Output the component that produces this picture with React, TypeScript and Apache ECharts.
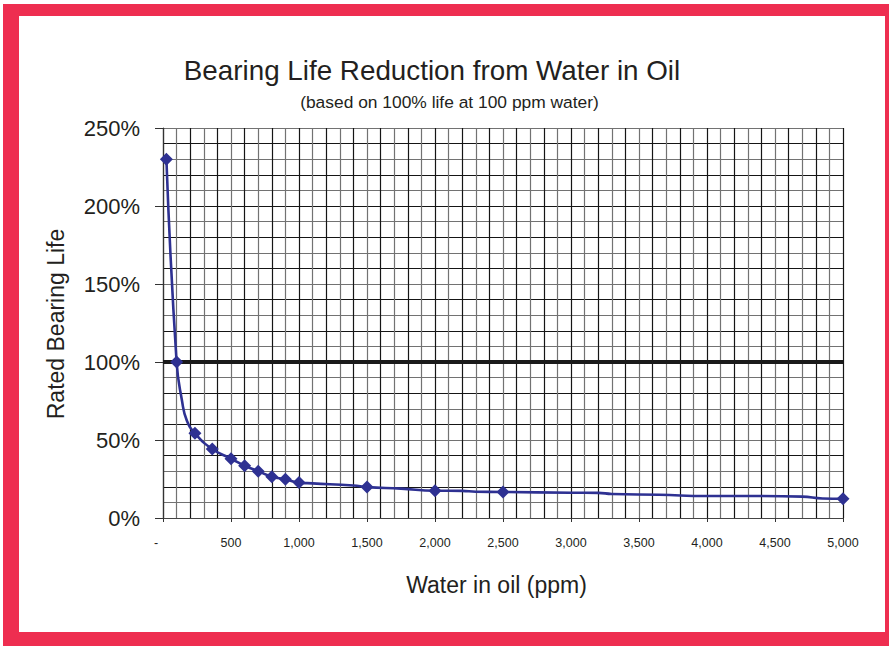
import React, { useEffect, useRef } from "react";
import * as echarts from "echarts";

// Curve through the chart (ppm water, % rated life); marked = diamond shown
const waterPpm = [25, 100, 140, 175, 235, 362, 500, 600, 700, 800, 900, 1000, 1100, 1400, 1500, 1750, 2000, 2200, 2300, 2500, 3000, 3200, 3300, 3650, 4000, 4400, 4700, 4850, 5000];
const lifePct = [230, 100, 75, 62.5, 54.3, 44.2, 38, 33.5, 30, 26.5, 24.8, 22.7, 22.2, 20.8, 19.8, 18.8, 17.5, 17.4, 16.8, 16.7, 16.2, 16.1, 15.4, 14.9, 14.1, 14.1, 13.7, 12.5, 12.3];
const marked = [1, 1, 0, 0, 1, 1, 1, 1, 1, 1, 1, 1, 0, 0, 1, 0, 1, 0, 0, 1, 0, 0, 0, 0, 0, 0, 0, 0, 1];

// Reference line at 100% life
const refX = [0, 5000];
const refY = [100, 100];

const xTicks = [0, 500, 1000, 1500, 2000, 2500, 3000, 3500, 4000, 4500, 5000];
const yTicks = [0, 50, 100, 150, 200, 250];

const TEXT = "#231f20";
const FONT = "'Liberation Sans', Arial, Helvetica, sans-serif";

function fmtThousands(v: number): string {
  return String(v).replace(/\B(?=(\d{3})+(?!\d))/g, ",");
}

export default function App() {
  const ref = useRef<HTMLDivElement>(null);

  useEffect(() => {
    if (!ref.current) return;
    const chart = echarts.init(ref.current, undefined, { renderer: "svg" });
    const xMax = xTicks[xTicks.length - 1];
    const yMax = yTicks[yTicks.length - 1];
    const gridColors = ["#151515", "#727272"];

    chart.setOption({
      animation: false,
      textStyle: { fontFamily: FONT },
      grid: { left: 163, top: 128, width: 680, height: 390, containLabel: false },
      graphic: [
        {
          type: "text",
          x: 432,
          y: 70,
          style: {
            text: "Bearing Life Reduction from Water in Oil",
            fontSize: 27.8,
            fontFamily: FONT,
            fill: TEXT,
            textAlign: "center",
            textVerticalAlign: "middle",
          },
        },
        {
          type: "text",
          x: 449.5,
          y: 102,
          style: {
            text: "(based on 100% life at 100 ppm water)",
            fontSize: 17.4,
            fontFamily: FONT,
            fill: TEXT,
            textAlign: "center",
            textVerticalAlign: "middle",
          },
        },
        {
          type: "text",
          x: 496.5,
          y: 585,
          style: {
            text: "Water in oil (ppm)",
            fontSize: 23,
            fontFamily: FONT,
            fill: TEXT,
            textAlign: "center",
            textVerticalAlign: "middle",
          },
        },
        {
          type: "text",
          x: 56,
          y: 324,
          rotation: Math.PI / 2,
          style: {
            text: "Rated Bearing Life",
            fontSize: 23,
            fontFamily: FONT,
            fill: TEXT,
            textAlign: "center",
            textVerticalAlign: "middle",
          },
        },
      ],
      xAxis: [
        {
          type: "value",
          min: 0,
          max: xMax,
          interval: 500,
          axisLine: { show: true, lineStyle: { color: "#444", width: 1.2 } },
          axisTick: { show: true, length: 4, lineStyle: { color: "#333" } },
          splitLine: { show: false },
          axisLabel: {
            margin: 18,
            fontSize: 12.5,
            color: TEXT,
            fontFamily: FONT,
            formatter: (v: number) => (v === 0 ? "{d|-}" : fmtThousands(v)),
            rich: { d: { padding: [0, 14, 0, 0], fontSize: 12.5, color: TEXT, fontFamily: FONT } },
          },
        },
        {
          type: "value",
          min: 0,
          max: xMax,
          interval: 100,
          show: true,
          axisLine: { show: false },
          axisTick: { show: false },
          axisLabel: { show: false },
          splitLine: { show: true, lineStyle: { color: gridColors, width: 1.2 } },
        },
      ],
      yAxis: [
        {
          type: "value",
          min: 0,
          max: yMax,
          interval: 50,
          axisLine: { show: true, lineStyle: { color: "#333", width: 1.2 } },
          axisTick: { show: true, length: 8, lineStyle: { color: "#333" } },
          splitLine: { show: false },
          axisLabel: {
            margin: 23,
            fontSize: 22,
            color: TEXT,
            fontFamily: FONT,
            formatter: (v: number) => v + "%",
          },
        },
        {
          type: "value",
          min: 0,
          max: yMax,
          interval: 10,
          show: true,
          axisLine: { show: false },
          axisTick: { show: false },
          axisLabel: { show: false },
          splitLine: { show: true, lineStyle: { color: gridColors, width: 1.2 } },
        },
      ],
      series: [
        {
          type: "line",
          xAxisIndex: 0,
          yAxisIndex: 0,
          data: refX.map((x, i) => [x, refY[i]]),
          showSymbol: false,
          symbol: "none",
          lineStyle: { color: "#1a1a1a", width: 4 },
          z: 3,
          silent: true,
        },
        {
          type: "line",
          xAxisIndex: 0,
          yAxisIndex: 0,
          data: waterPpm.map((x, i) => ({
            value: [x, lifePct[i]],
            symbol: marked[i] ? "diamond" : "none",
          })),
          showSymbol: true,
          symbol: "diamond",
          symbolSize: 13,
          smooth: 0.5,
          lineStyle: { color: "#2e3192", width: 2.6 },
          itemStyle: { color: "#2e3192", borderWidth: 0 },
          z: 5,
          silent: true,
        },
      ],
    });
    return () => chart.dispose();
  }, []);

  return (
    <div style={{ position: "fixed", left: 0, top: 0, width: 889, height: 646, background: "#fff", overflow: "hidden" }}>
      <div
        style={{
          position: "absolute",
          left: 3,
          top: 4,
          width: 866,
          height: 616,
          borderLeft: "16px solid #ee2e50",
          borderTop: "12px solid #ee2e50",
          borderRight: "4px solid #ee2e50",
          borderBottom: "14px solid #ee2e50",
          background: "#fff",
        }}
      />
      <div ref={ref} style={{ position: "absolute", left: 0, top: 0, width: 889, height: 646 }} />
    </div>
  );
}
